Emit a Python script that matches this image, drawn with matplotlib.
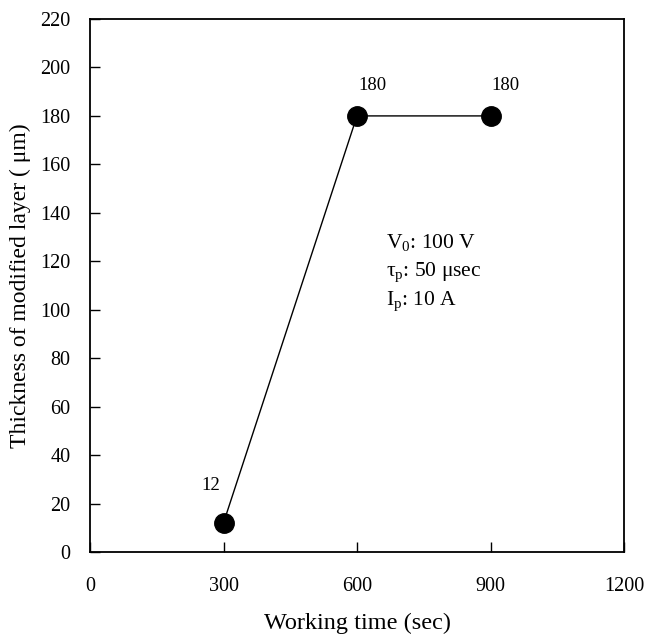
import matplotlib
matplotlib.use('Agg')
import matplotlib.pyplot as plt

plt.rcParams['font.family'] = ['Liberation Serif', 'DejaVu Serif']
plt.rcParams['mathtext.fontset'] = 'custom'
plt.rcParams['mathtext.rm'] = 'Liberation Serif'
plt.rcParams['mathtext.it'] = 'Liberation Serif:italic'

# data
working_time = [300, 600, 900]
thickness = [12, 180, 180]
point_labels = ['12', '180', '180']
label_offsets = [(-9, 27), (11, 22), (11, 22)]  # in points

x_ticks = [0, 300, 600, 900, 1200]
y_ticks = list(range(0, 221, 20))

conditions = [r'V$_\mathrm{0}$: 100 V', r'τ$_\mathrm{p}$: 50 μsec', r'I$_\mathrm{p}$: 10 A']

fig = plt.figure(figsize=(6.46, 6.35), dpi=100)
ax = fig.add_axes([90 / 646, 1 - 552 / 635, 534 / 646, 533 / 635])

ax.plot(working_time, thickness, color='black', lw=1.0, marker='o',
        markersize=14, markerfacecolor='black', markeredgecolor='black', zorder=3)

for x, y, lab, off in zip(working_time, thickness, point_labels, label_offsets):
    ax.annotate(lab, (x, y), xytext=off, textcoords='offset points',
                ha='center', va='center', fontsize=13.5)

# operating conditions
for i, txt in enumerate(conditions):
    ax.text(0.555, 0.58 - i * 0.055, txt, transform=ax.transAxes,
            fontsize=15.5, ha='left', va='center')

ax.set_xlim(0, 1200)
ax.set_ylim(0, 220)
ax.set_xticks(x_ticks)
ax.set_yticks(y_ticks)

ax.tick_params(direction='in', length=7, width=1, labelsize=14.5,
               top=False, right=False)
ax.tick_params(axis='x', pad=18)
ax.tick_params(axis='y', pad=14)
for s in ax.spines.values():
    s.set_linewidth(1.3)

ax.set_xlabel('Working time (sec)', fontsize=17.5, labelpad=12)
ax.set_ylabel('Thickness of modified layer ( μm)', fontsize=17, labelpad=7)

fig.savefig('out.png', dpi=100)
